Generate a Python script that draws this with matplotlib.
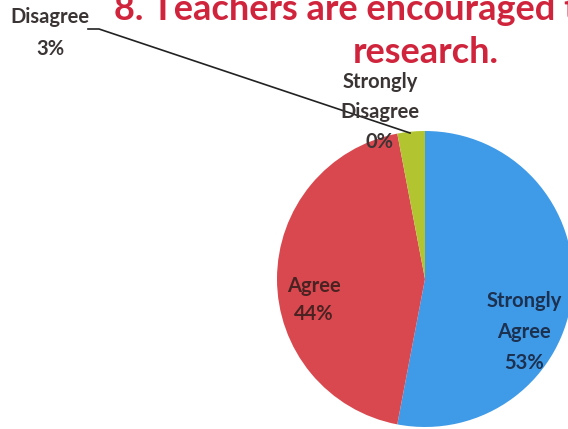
import matplotlib.pyplot as plt

# data
categories = ["Strongly\nAgree", "Agree", "Disagree", "Strongly\nDisagree"]
percents = [53, 44, 3, 0]
colors = ["#3f9be8", "#d9484f", "#b2c531", "#7a9a3a"]
title_lines = ["8. Teachers are encouraged to conduct", "research."]

W, H = 568, 429
fig = plt.figure(figsize=(W / 100, H / 100), dpi=100)
ax = fig.add_axes([0, 0, 1, 1])

# pie in pixel-like coordinates (y up), partly cut off like the scan
cx, cy, r = 425, H - 279, 148
ax.pie(percents, colors=colors, startangle=90, counterclock=False,
       center=(cx, cy), radius=r,
       wedgeprops=dict(edgecolor="none"))
ax.set_xlim(0, W)
ax.set_ylim(0, H)
ax.set_aspect("equal")
ax.axis("off")

font = ["Lato", "DejaVu Sans"]
lab = dict(ha="center", va="center", fontsize=14.5, family=font,
           fontweight="bold")

# labels inside the pie
ax.text(314, H - 300, f"{categories[1]}\n{percents[1]}%", color="#4a2222",
        linespacing=1.45, **lab)
ax.text(524, H - 332, f"{categories[0]}\n{percents[0]}%", color="#1c3050",
        linespacing=1.7, **lab)
ax.text(380, H - 112, f"{categories[3]}\n{percents[3]}%", color="#3a3434",
        linespacing=1.65, **lab)

# outside label with leader line
ax.text(50, H - 33, f"{categories[2]}\n{percents[2]}%", color="#3a3434",
        linespacing=1.7, **lab)
ax.plot([88, 99, 410], [H - 29, H - 29, H - 133], color="#222222", lw=1.2)

# title (cropped by the scan)
tkw = dict(fontsize=26, color="#d0243c", family=font, fontweight="bold",
           va="baseline")
ax.text(114, H - 20, title_lines[0], ha="left", **tkw)
ax.text(426, H - 63, title_lines[1], ha="center", **tkw)

fig.savefig("out.png", dpi=100)
